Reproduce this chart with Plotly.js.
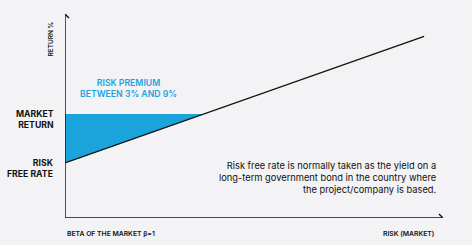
<!DOCTYPE html>
<html><head><meta charset="utf-8">
<script src="https://cdn.plot.ly/plotly-3.0.1.min.js"></script>
<style>html,body{margin:0;padding:0;background:#fff}#c{width:474px;height:248px}</style>
</head><body><div id="c"></div>
<script>
// Security market line data
const betaPoints = [0, 9.5];
const returnPoints = [2.7, 8.9];
const riskFreeRate = 2.7;
const marketReturn = 5.1;
const axisMax = [10, 10];
const yLabels = ["MARKET<br>RETURN", "RISK<br>FREE RATE"];
const yLabelValues = [marketReturn, riskFreeRate];

const slope = (returnPoints[1] - returnPoints[0]) / (betaPoints[1] - betaPoints[0]);
const crossX = (marketReturn - riskFreeRate) / slope;

const dark = '#111111';
const blue = '#1ba3dc';
const traces = [
  {x: [0, crossX, 0], y: [marketReturn, marketReturn, riskFreeRate], mode: 'lines', fill: 'toself',
   fillcolor: blue, line: {width: 0, color: blue}, hoverinfo: 'skip'},
  {x: betaPoints, y: returnPoints, mode: 'lines', line: {color: dark, width: 1.3}, hoverinfo: 'skip'},
  {x: [0, 0, axisMax[0]], y: [axisMax[1], 0, 0], mode: 'lines', line: {color: dark, width: 1.4}, hoverinfo: 'skip'}
];

const font = "Inter, 'Open Sans', sans-serif";
const annotations = [];
yLabels.forEach((t, i) => annotations.push({x: 0, y: yLabelValues[i], xref: 'x', yref: 'y', text: t, showarrow: false,
  xanchor: 'right', yanchor: 'top', xshift: -9, yshift: 7, align: 'right',
  font: {family: font, size: 8.7, color: dark, weight: 700}}));
annotations.push({x: 0, y: axisMax[1], xref: 'x', yref: 'y', text: 'RETURN %', textangle: -90, showarrow: false,
  xanchor: 'right', yanchor: 'top', xshift: -9, yshift: -6, font: {family: font, size: 6.5, color: dark, weight: 600}});
annotations.push({x: crossX * 0.455, y: marketReturn, xref: 'x', yref: 'y', text: 'RISK PREMIUM<br>BETWEEN 3% AND 9%',
  showarrow: false, yanchor: 'bottom', yshift: 13, font: {family: font, size: 8.7, color: blue, weight: 600}});
annotations.push({x: 0, y: 0, xref: 'x', yref: 'y', text: 'BETA OF THE MARKET β=1', showarrow: false,
  xanchor: 'left', yanchor: 'top', yshift: -9, font: {family: font, size: 6.8, color: dark, weight: 600}});
annotations.push({x: axisMax[0], y: 0, xref: 'x', yref: 'y', text: 'RISK (MARKET)', showarrow: false,
  xanchor: 'right', yanchor: 'top', xshift: -7, yshift: -9, font: {family: font, size: 6.8, color: dark, weight: 600}});
annotations.push({x: axisMax[0], y: 0, xref: 'x', yref: 'y',
  text: 'Risk free rate is normally taken as the yield on a<br>long-term government bond in the country where<br>the project/company is based.',
  showarrow: false, xanchor: 'right', yanchor: 'bottom', align: 'right', xshift: -5, yshift: 21,
  font: {family: font, size: 9.3, color: dark}});

const shapes = [
  {type: 'rect', xref: 'paper', yref: 'paper', x0: -0.2, x1: 1.0767, y0: -0.132, y1: 1.1, layer: 'below',
   fillcolor: '#f3f3f5', line: {width: 0}},
  {type: 'path', xref: 'x', yref: 'y', xsizemode: 'pixel', ysizemode: 'pixel', xanchor: axisMax[0], yanchor: 0,
   path: 'M-4,-4 L0,0 L-4,4', line: {color: dark, width: 1.4}},
  {type: 'path', xref: 'x', yref: 'y', xsizemode: 'pixel', ysizemode: 'pixel', xanchor: 0, yanchor: axisMax[1],
   path: 'M-4,-4 L0,0 L4,-4', line: {color: dark, width: 1.4}}
];

const layout = {
  width: 474, height: 248, margin: {l: 65, r: 31, t: 14, b: 30},
  paper_bgcolor: '#ffffff', plot_bgcolor: 'rgba(0,0,0,0)', showlegend: false,
  xaxis: {range: [0, axisMax[0]], visible: false, fixedrange: true},
  yaxis: {range: [0, axisMax[1]], visible: false, fixedrange: true},
  annotations, shapes
};
Plotly.newPlot('c', traces, layout, {displayModeBar: false, staticPlot: true});
</script></body></html>
